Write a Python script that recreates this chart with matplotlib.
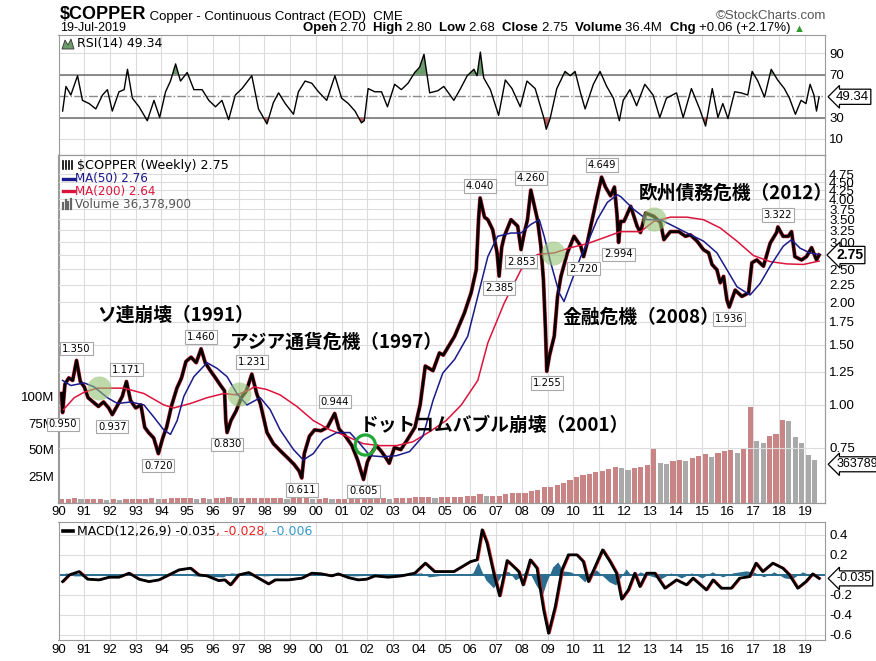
import numpy as np
import matplotlib.pyplot as plt
from matplotlib.ticker import FixedLocator, FuncFormatter, NullLocator
from matplotlib.patches import Polygon
from matplotlib.lines import Line2D

plt.rcParams['font.family'] = ['Liberation Sans', 'DejaVu Sans']

# ---------------- values (decimal years) ----------------
price_pts = [
    (1990.12, 1.08), (1990.16, 0.950), (1990.25, 1.15), (1990.40, 1.20), (1990.55, 1.18),
    (1990.70, 1.350), (1990.85, 1.17), (1991.00, 1.13), (1991.15, 1.05), (1991.35, 1.02),
    (1991.55, 0.99), (1991.75, 1.02), (1991.95, 0.98), (1992.09, 0.937), (1992.30, 1.00),
    (1992.48, 1.06), (1992.64, 1.171), (1992.80, 1.03), (1993.00, 0.98), (1993.20, 1.00),
    (1993.35, 0.86), (1993.50, 0.83), (1993.70, 0.80), (1993.88, 0.720), (1994.05, 0.80),
    (1994.20, 0.86), (1994.40, 1.00), (1994.60, 1.12), (1994.78, 1.20), (1994.95, 1.34),
    (1995.15, 1.38), (1995.35, 1.33), (1995.54, 1.460), (1995.70, 1.33), (1995.90, 1.26),
    (1996.10, 1.20), (1996.30, 1.14), (1996.45, 1.10), (1996.50, 0.90), (1996.55, 0.830),
    (1996.70, 0.90), (1996.90, 0.96), (1997.10, 1.05), (1997.30, 1.10), (1997.51, 1.231),
    (1997.70, 1.08), (1997.84, 1.01), (1998.10, 0.83), (1998.35, 0.77), (1998.65, 0.73),
    (1998.90, 0.70), (1999.15, 0.67), (1999.35, 0.64), (1999.45, 0.611), (1999.55, 0.72),
    (1999.75, 0.81), (1999.95, 0.845), (2000.20, 0.84), (2000.45, 0.86), (2000.73, 0.944),
    (2000.90, 0.85), (2001.15, 0.81), (2001.40, 0.76), (2001.62, 0.69), (2001.85, 0.605),
    (2002.00, 0.68), (2002.15, 0.72), (2002.35, 0.76), (2002.55, 0.73), (2002.72, 0.70),
    (2002.85, 0.675), (2003.05, 0.75), (2003.30, 0.74), (2003.55, 0.79), (2003.85, 0.86),
    (2004.05, 1.00), (2004.25, 1.30), (2004.40, 1.28), (2004.55, 1.26), (2004.80, 1.42),
    (2004.95, 1.40), (2005.39, 1.59), (2005.77, 1.86), (2006.03, 2.13), (2006.23, 2.49),
    (2006.32, 3.50), (2006.38, 4.040), (2006.55, 3.55), (2006.68, 3.49), (2006.87, 3.26),
    (2007.04, 2.79), (2007.12, 2.385), (2007.22, 2.90), (2007.32, 3.12), (2007.58, 3.49),
    (2007.84, 3.34), (2007.97, 2.853), (2008.10, 3.20), (2008.22, 3.49), (2008.35, 4.260),
    (2008.50, 3.80), (2008.61, 3.49), (2008.74, 2.92), (2008.84, 2.33), (2008.92, 1.66),
    (2008.97, 1.255), (2009.08, 1.40), (2009.26, 1.59), (2009.39, 2.08), (2009.52, 2.38),
    (2009.77, 2.79), (2010.03, 3.12), (2010.29, 2.92), (2010.40, 2.720), (2010.55, 3.00),
    (2010.68, 3.34), (2010.93, 4.08), (2011.10, 4.649), (2011.25, 4.35), (2011.45, 4.10),
    (2011.60, 4.35), (2011.70, 3.60), (2011.76, 2.994), (2011.84, 3.45), (2011.97, 3.45),
    (2012.23, 3.82), (2012.48, 3.34), (2012.61, 3.20), (2012.81, 3.65), (2013.13, 3.57),
    (2013.39, 3.42), (2013.52, 3.05), (2013.77, 3.22), (2014.10, 3.22), (2014.36, 3.12),
    (2014.55, 3.15), (2014.81, 3.02), (2015.06, 2.85), (2015.26, 2.79), (2015.39, 2.58),
    (2015.58, 2.49), (2015.71, 2.28), (2015.84, 2.38), (2015.97, 2.03), (2016.06, 1.936),
    (2016.29, 2.17), (2016.55, 2.08), (2016.81, 2.13), (2016.94, 2.61), (2017.13, 2.66),
    (2017.39, 2.55), (2017.65, 2.98), (2017.90, 3.20), (2017.95, 3.322), (2018.15, 3.12),
    (2018.35, 3.12), (2018.48, 3.22), (2018.61, 2.72), (2018.87, 2.66), (2019.06, 2.72),
    (2019.26, 2.89), (2019.45, 2.66), (2019.55, 2.75),
]
price_t, price = zip(*price_pts)

ma50_pts = [
    (1990.16, 1.18), (1990.48, 1.14), (1991.00, 1.16), (1991.38, 1.13), (1991.90, 1.05),
    (1992.29, 1.01), (1992.80, 1.02), (1993.32, 1.00), (1993.71, 0.92), (1994.09, 0.845),
    (1994.35, 0.82), (1994.61, 0.90), (1994.87, 1.06), (1995.26, 1.21), (1995.77, 1.33),
    (1996.16, 1.28), (1996.55, 1.21), (1996.93, 1.08), (1997.32, 1.00), (1997.84, 1.05),
    (1998.22, 0.97), (1998.61, 0.845), (1999.13, 0.74), (1999.51, 0.69), (1999.90, 0.72),
    (2000.29, 0.79), (2000.81, 0.83), (2001.32, 0.83), (2001.71, 0.77), (2002.10, 0.71),
    (2002.61, 0.705), (2003.13, 0.71), (2003.64, 0.73), (2004.16, 0.81), (2004.55, 1.03),
    (2004.93, 1.24), (2005.39, 1.36), (2005.90, 1.59), (2006.29, 2.08), (2006.68, 2.72),
    (2007.06, 3.12), (2007.58, 3.19), (2007.97, 3.19), (2008.35, 3.38), (2008.68, 3.49),
    (2008.87, 3.12), (2009.13, 2.60), (2009.45, 2.13), (2009.64, 2.01), (2009.90, 2.27),
    (2010.29, 2.72), (2010.55, 2.98), (2010.93, 3.49), (2011.32, 3.92), (2011.71, 4.13),
    (2011.84, 4.08), (2012.35, 3.74), (2012.87, 3.49), (2013.39, 3.49), (2013.90, 3.34),
    (2014.42, 3.19), (2015.06, 3.02), (2015.58, 2.79), (2015.97, 2.49), (2016.36, 2.22),
    (2016.87, 2.10), (2017.26, 2.27), (2017.65, 2.55), (2018.16, 2.92), (2018.48, 3.05),
    (2018.81, 2.88), (2019.19, 2.79), (2019.55, 2.76),
]
ma50_t, ma50 = zip(*ma50_pts)

ma200_pts = [
    (1990.20, 0.97), (1990.61, 1.05), (1991.00, 1.09), (1991.51, 1.12), (1992.55, 1.12),
    (1993.32, 1.08), (1994.09, 1.00), (1994.48, 0.98), (1995.13, 1.01), (1995.77, 1.05),
    (1996.42, 1.08), (1996.93, 1.07), (1997.45, 1.11), (1997.58, 1.13), (1998.09, 1.11),
    (1998.61, 1.07), (1999.26, 0.99), (1999.90, 0.90), (2000.55, 0.845), (2001.19, 0.81),
    (2001.84, 0.77), (2002.48, 0.76), (2003.13, 0.76), (2003.77, 0.78), (2004.42, 0.835),
    (2005.06, 0.90), (2005.65, 1.00), (2006.29, 1.18), (2006.68, 1.52), (2007.32, 1.99),
    (2007.97, 2.49), (2008.61, 2.76), (2009.26, 2.79), (2009.90, 2.89), (2010.55, 2.97),
    (2011.19, 3.09), (2011.84, 3.22), (2012.61, 3.22), (2013.13, 3.45), (2013.77, 3.55),
    (2014.42, 3.55), (2015.06, 3.49), (2015.71, 3.30), (2016.36, 3.02), (2017.00, 2.74),
    (2017.65, 2.63), (2018.29, 2.59), (2018.94, 2.58), (2019.55, 2.64),
]
ma200_t, ma200 = zip(*ma200_pts)

# labelled highs and lows
high_t = [1990.70, 1992.64, 1995.54, 1997.51, 2000.73, 2006.38, 2008.35, 2011.10, 2017.95]
high_v = [1.350, 1.171, 1.460, 1.231, 0.944, 4.040, 4.260, 4.649, 3.322]
low_t = [1990.16, 1992.09, 1993.88, 1996.55, 1999.45, 2001.85, 2007.12, 2007.97,
         2008.97, 2010.40, 2011.76, 2016.06]
low_v = [0.950, 0.937, 0.720, 0.830, 0.611, 0.605, 2.385, 2.853, 1.255, 2.720, 2.994, 1.936]

# weekly volume, read per quarter (millions), 1990Q1 .. 2019Q2
vol_m = [
    4, 4, 5, 4,  4, 4, 4, 3,  4, 3, 4, 4,  4, 4, 5, 4,  4, 5, 5, 5,
    5, 4, 5, 4,  5, 5, 6, 5,  5, 5, 5, 5,  5, 5, 5, 4,  5, 5, 5, 4,
    4, 5, 4, 4,  4, 4, 5, 5,  5, 5, 5, 4,  5, 5, 5, 6,  6, 6, 5, 6,
    6, 6, 6, 7,  7, 8, 7, 7,  7, 8, 9, 9,  9, 11, 12, 15,  15, 17, 19, 22,
    24, 26, 27, 29,  30, 32, 34, 33,  31, 33, 34, 36,  52, 38, 37, 39,
    40, 39, 42, 44,  46, 43, 47, 49,  50, 47, 52, 90,  58, 56, 63, 65,
    78, 77, 62, 56,  45, 40,
]
last_volume = 36378900

rsi_pts = [
    (1990.16, 36), (1990.29, 59), (1990.48, 51), (1990.74, 69), (1990.93, 46),
    (1991.19, 43), (1991.45, 38), (1991.71, 51), (1991.90, 56), (1992.09, 36),
    (1992.35, 54), (1992.55, 56), (1992.68, 75), (1992.87, 48), (1993.13, 40),
    (1993.45, 27), (1993.71, 46), (1993.93, 30), (1994.16, 54), (1994.35, 64),
    (1994.55, 80), (1994.74, 64), (1995.00, 72), (1995.26, 56), (1995.58, 56),
    (1995.84, 46), (1996.10, 40), (1996.35, 46), (1996.61, 28), (1996.87, 51),
    (1997.13, 57), (1997.51, 69), (1997.77, 38), (1998.10, 24), (1998.35, 44),
    (1998.55, 53), (1998.81, 43), (1999.13, 33), (1999.32, 54), (1999.58, 64),
    (1999.84, 62), (2000.10, 54), (2000.42, 46), (2000.74, 69), (2001.00, 48),
    (2001.26, 43), (2001.52, 36), (2001.77, 25), (2001.88, 27), (2002.03, 57),
    (2002.29, 54), (2002.55, 54), (2002.78, 40), (2003.06, 61), (2003.32, 56),
    (2003.58, 62), (2003.84, 72), (2004.03, 77), (2004.20, 89), (2004.42, 53),
    (2004.74, 55), (2004.97, 59), (2005.36, 46), (2005.62, 57), (2005.88, 69),
    (2006.14, 75), (2006.26, 69), (2006.39, 91), (2006.52, 67), (2006.78, 56),
    (2007.10, 32), (2007.36, 65), (2007.62, 57), (2007.94, 40), (2008.20, 64),
    (2008.52, 57), (2008.85, 30), (2008.95, 19), (2009.10, 29), (2009.36, 57),
    (2009.68, 73), (2009.88, 69), (2010.07, 73), (2010.27, 54), (2010.46, 38),
    (2010.78, 61), (2011.04, 73), (2011.30, 59), (2011.56, 48), (2011.79, 27),
    (2011.94, 46), (2012.20, 56), (2012.46, 41), (2012.78, 61), (2013.10, 51),
    (2013.36, 30), (2013.62, 48), (2014.01, 53), (2014.27, 30), (2014.59, 57),
    (2014.91, 38), (2015.14, 22), (2015.40, 57), (2015.62, 30), (2015.81, 43),
    (2016.01, 29), (2016.27, 54), (2016.52, 53), (2016.78, 51), (2016.95, 73),
    (2017.17, 64), (2017.43, 49), (2017.69, 75), (2017.94, 65), (2018.20, 57),
    (2018.40, 48), (2018.63, 33), (2018.85, 46), (2019.04, 43), (2019.20, 61),
    (2019.35, 51), (2019.45, 36), (2019.55, 49.34),
]
rsi_t, rsi = zip(*rsi_pts)

macd_pts = [
    (1990.16, -0.067), (1990.42, 0.0), (1990.80, 0.033), (1991.13, -0.043), (1991.58, -0.05),
    (1991.97, -0.023), (1992.35, -0.023), (1992.74, 0.017), (1993.13, -0.043), (1993.51, -0.067),
    (1993.90, -0.05), (1994.29, 0.0), (1994.68, 0.05), (1995.13, 0.067), (1995.45, 0.0),
    (1995.77, -0.01), (1996.22, -0.057), (1996.46, -0.05), (1996.68, -0.10), (1997.00, 0.0),
    (1997.39, 0.023), (1997.77, -0.033), (1998.16, -0.09), (1998.42, -0.05), (1998.93, -0.05),
    (1999.45, -0.033), (1999.84, 0.017), (2000.22, 0.01), (2000.61, -0.01), (2000.87, 0.01),
    (2001.26, -0.027), (2001.64, -0.05), (2001.97, -0.043), (2002.29, -0.01), (2002.81, -0.023),
    (2003.32, -0.01), (2003.84, 0.017), (2004.25, 0.117), (2004.61, 0.033), (2005.36, 0.033),
    (2006.01, 0.133), (2006.26, 0.15), (2006.46, 0.45), (2006.65, 0.317), (2006.91, 0.017),
    (2007.14, -0.21), (2007.43, 0.143), (2007.68, 0.083), (2007.88, 0.033), (2008.05, -0.10),
    (2008.33, 0.15), (2008.59, 0.067), (2008.85, -0.35), (2009.04, -0.583), (2009.30, -0.317),
    (2009.56, 0.05), (2009.81, 0.20), (2010.14, 0.20), (2010.39, 0.133), (2010.59, -0.067),
    (2010.85, 0.083), (2011.14, 0.25), (2011.43, 0.133), (2011.68, 0.017), (2011.88, -0.243),
    (2012.14, -0.15), (2012.39, 0.017), (2012.59, -0.117), (2012.85, 0.017), (2013.17, 0.017),
    (2013.56, -0.133), (2014.01, -0.05), (2014.40, -0.10), (2014.65, -0.033), (2015.17, -0.15),
    (2015.43, -0.05), (2015.75, -0.133), (2016.14, -0.133), (2016.46, -0.033), (2016.85, -0.017),
    (2017.10, 0.117), (2017.36, 0.033), (2017.75, 0.117), (2018.14, 0.067), (2018.40, 0.0),
    (2018.72, -0.133), (2019.04, -0.067), (2019.30, 0.01), (2019.55, -0.035),
]
macd_t, macd = zip(*macd_pts)

hist_pts = [
    (1990.10, 0.0), (1990.30, 0.02), (1990.60, -0.01), (1991.00, -0.01), (1991.50, 0.01),
    (1992.50, 0.0), (1993.50, -0.01), (1994.50, 0.01), (1995.30, -0.01), (1996.40, -0.02),
    (1996.70, 0.02), (1997.20, 0.01), (1998.00, -0.01), (1999.50, 0.01), (2000.50, 0.0),
    (2001.50, -0.01), (2002.50, 0.0), (2003.50, 0.01), (2004.10, 0.02), (2004.40, -0.02),
    (2005.00, 0.0), (2005.80, 0.0), (2006.10, 0.02), (2006.30, 0.13), (2006.42, 0.05),
    (2006.60, -0.05), (2006.90, -0.13), (2007.10, -0.05), (2007.30, 0.04), (2007.50, 0.03),
    (2007.75, -0.05), (2007.95, -0.02), (2008.15, 0.04), (2008.35, 0.0), (2008.55, -0.10),
    (2008.80, -0.20), (2008.95, -0.08), (2009.20, 0.08), (2009.40, 0.13), (2009.60, 0.04),
    (2009.90, 0.03), (2010.20, -0.01), (2010.45, -0.07), (2010.65, 0.02), (2010.90, 0.05),
    (2011.10, 0.0), (2011.40, -0.07), (2011.65, -0.10), (2011.85, -0.02), (2012.05, 0.06),
    (2012.30, -0.02), (2012.60, 0.03), (2013.00, -0.01), (2013.40, -0.04), (2013.80, 0.02),
    (2014.20, -0.03), (2014.60, 0.02), (2015.00, -0.03), (2015.40, 0.03), (2015.80, -0.02),
    (2016.20, 0.02), (2016.70, 0.04), (2017.00, 0.03), (2017.40, -0.02), (2017.80, 0.03),
    (2018.20, -0.03), (2018.50, -0.04), (2018.90, 0.03), (2019.30, -0.01), (2019.55, -0.006),
]
hist_t, hist = zip(*hist_pts)

# highlighted turning points (filled circles) and the dot-com ring
event_t = [1991.58, 1997.00, 2009.20, 2013.13]
event_p = [1.12, 1.08, 2.79, 3.50]
ring_t = [2001.92]
ring_p = [0.763]

events = ['ソ連崩壊（1991）', 'アジア通貨危機（1997）', 'ドットコムバブル崩壊（2001）',
          '金融危機（2008）', '欧州債務危機（2012）']

price_ticks = [0.75, 1.00, 1.25, 1.50, 1.75, 2.00, 2.25, 2.50, 2.75, 3.00,
               3.25, 3.50, 3.75, 4.00, 4.25, 4.50, 4.75]

# ---------------- layout ----------------
W, H = 876, 661


def fx(x):
    return x / W


def fy(y):
    return 1 - y / H


def rect(x0, y0, x1, y1):
    return [fx(x0), fy(y1), (x1 - x0) / W, (y1 - y0) / H]


fig = plt.figure(figsize=(W / 100, H / 100), dpi=100)
ax_rsi = fig.add_axes(rect(58.5, 35, 825, 155))
ax_vol = fig.add_axes(rect(58.5, 155, 825, 503), sharex=ax_rsi)
ax_px = ax_vol.twinx()
ax_macd = fig.add_axes(rect(58.5, 521.5, 825, 640), sharex=ax_rsi)

grid_c = '#dcdcdc'
years = np.arange(1990, 2020)
ax_rsi.set_xlim(1990.10, 2019.78)
ax_rsi.set_xticks(years)
ax_rsi.set_xticklabels([f"{y % 100:02d}" for y in years])
for ax in (ax_rsi, ax_vol, ax_px, ax_macd):
    for s in ax.spines.values():
        s.set_color('#9a9a9a')
    ax.tick_params(labelsize=9.5, length=0, pad=3, colors='#888888', labelcolor='black')
for ax in (ax_rsi, ax_vol, ax_macd):
    ax.grid(axis='x', color=grid_c, lw=0.8)
    ax.set_axisbelow(True)
ax_rsi.tick_params(labelbottom=False)
ax_vol.tick_params(axis='x', pad=2)
ax_macd.tick_params(axis='x', pad=3)

# ---------------- RSI ----------------
rsi_a = np.array(rsi)
ax_rsi.plot(rsi_t, rsi, color='black', lw=1.0, zorder=3)
ax_rsi.fill_between(rsi_t, rsi_a, 70, where=rsi_a > 70, interpolate=True,
                    color='#6b9c6b', lw=0, zorder=2)
ax_rsi.fill_between(rsi_t, rsi_a, 30, where=rsi_a < 30, interpolate=True,
                    color='#b86262', lw=0, zorder=2)
for lvl in (30, 70):
    ax_rsi.axhline(lvl, color='#6e6e6e', lw=1.1, zorder=1)
ax_rsi.axhline(50, color='#8a8a8a', lw=1.0, ls='-.', zorder=1)
ax_rsi.set_ylim(-5, 107)
ax_rsi.yaxis.tick_right()
ax_rsi.set_yticks([10, 30, 70, 90])
ax_rsi.grid(axis='y', color=grid_c, lw=0.8)

# ---------------- volume ----------------
vol_t = 1990.125 + 0.25 * np.arange(len(vol_m))
vol = np.array(vol_m) * 1e6
vol_col = ['#c98585' if i == 0 or vol_m[i] >= vol_m[i - 1] else '#a9a9a9'
           for i in range(len(vol_m))]
ax_vol.bar(vol_t, vol, width=0.2, color=vol_col, lw=0)
ax_vol.set_ylim(0, 327e6)
ax_vol.yaxis.tick_left()
ax_vol.set_yticks([25e6, 50e6, 75e6, 100e6])
ax_vol.set_yticklabels(['25M', '50M', '75M', '100M'])

# ---------------- price ----------------
ax_px.set_yscale('log')
ax_px.set_ylim(0.516, 5.40)
ax_px.yaxis.set_major_locator(FixedLocator(price_ticks))
# the 2.75 label sits under the closing-price tag
ax_px.yaxis.set_major_formatter(FuncFormatter(lambda v, p: '' if abs(v - 2.75) < 1e-6 else f"{v:.2f}"))
ax_px.yaxis.set_minor_locator(NullLocator())
ax_px.grid(axis='y', color=grid_c, lw=0.8, zorder=0)
ax_px.plot(price_t, price, color='#cc2233', lw=2.8, zorder=3)
ax_px.plot(price_t, price, color='black', lw=2.0, zorder=4)
ax_px.plot(ma200_t, ma200, color='#dc143c', lw=1.1, zorder=5)
ax_px.plot(ma50_t, ma50, color='#1a1a8c', lw=1.1, zorder=5)
ax_px.scatter(event_t, event_p, s=300, color='#94c274', alpha=0.6, lw=0, zorder=6)
ax_px.scatter(ring_t, ring_p, s=210, facecolor='none', edgecolor='#22a838', lw=2.3, zorder=6)

box = dict(boxstyle='square,pad=0.18', fc='white', ec='#a8a8a8', lw=0.8)
for t, v in zip(high_t, high_v):
    ax_px.annotate(f"{v:.3f}", xy=(t, v), xytext=(0, 5), textcoords='offset points',
                   ha='center', va='bottom', fontsize=7.2, family='DejaVu Sans',
                   bbox=box, zorder=7)
for t, v in zip(low_t, low_v):
    ax_px.annotate(f"{v:.3f}", xy=(t, v), xytext=(0, -5), textcoords='offset points',
                   ha='center', va='top', fontsize=7.2, family='DejaVu Sans',
                   bbox=box, zorder=7)

# event notes (position in year / price)
note_pos = [(1991.51, 1.835), (1996.66, 1.53), (2001.69, 0.874), (2009.58, 1.80), (2012.53, 4.18)]
for s, (t, p) in zip(events, note_pos):
    ax_px.text(t, p, s, fontsize=13.5, family=['Noto Sans CJK JP', 'DejaVu Sans'],
               weight='bold', ha='left', va='center', zorder=8)


# ---------------- MACD ----------------
ax_macd.fill_between(hist_t, hist, 0, color='#2a6d90', lw=0, zorder=2)
ax_macd.axhline(0, color='#2a6d90', lw=1.4, zorder=2)
ax_macd.plot(np.array(macd_t) + 0.05, macd, color='#ee2020', lw=1.3, zorder=3)
ax_macd.plot(macd_t, macd, color='black', lw=2.0, zorder=4)
ax_macd.set_ylim(-0.65, 0.533)
ax_macd.yaxis.tick_right()
ax_macd.set_yticks([-0.6, -0.4, -0.2, 0.2, 0.4])
ax_macd.yaxis.set_major_formatter(FuncFormatter(lambda v, p: f"{v:.1f}"))
ax_macd.grid(axis='y', color=grid_c, lw=0.8)


# ---------------- right-edge value tags ----------------
def edge_tag(ax, y, s, bold=False, size=9):
    ax.annotate(s, xy=(1, y), xycoords=('axes fraction', 'data'), xytext=(8, 0),
                textcoords='offset points', ha='left', va='center', fontsize=size,
                fontweight='bold' if bold else 'normal', annotation_clip=False,
                bbox=dict(boxstyle='larrow,pad=0.12', fc='white', ec='black', lw=0.9),
                zorder=10)


edge_tag(ax_rsi, rsi[-1], f"{rsi[-1]:.2f}", size=9.5)
edge_tag(ax_px, price[-1], f"{price[-1]:.2f}", bold=True, size=10)
edge_tag(ax_vol, last_volume, f"{last_volume}", size=9)
edge_tag(ax_macd, macd[-1], f"{macd[-1]:.3f}", size=9)


# ---------------- header and panel legends ----------------
def chain(ax, x, y, parts, size, family='Liberation Sans'):
    t = fig.text(fx(x), fy(y), parts[0][0], fontsize=parts[0][3], fontweight=parts[0][1],
                 color=parts[0][2], family=family, va='baseline')
    for s, wt, c, sz in parts[1:]:
        t = ax.annotate(s, xy=(1, 0), xycoords=t, va='bottom', ha='left',
                        fontsize=sz, fontweight=wt, color=c, family=family,
                        annotation_clip=False, zorder=20)
    return t


chain(ax_rsi, 60, 19, [('$COPPER', 'bold', 'black', 13),
                       (' Copper - Continuous Contract (EOD)  CME', 'normal', 'black', 9.5)], 9.5)
fig.text(fx(826), fy(19), '\u00a9StockCharts.com', fontsize=9.5, color='#555555',
         ha='right', va='baseline')
fig.text(fx(60), fy(31), '19-Jul-2019', fontsize=9, va='baseline')
hdr = [('Open ', 'bold'), ('2.70  ', 'normal'), ('High ', 'bold'), ('2.80  ', 'normal'),
       ('Low ', 'bold'), ('2.68  ', 'normal'), ('Close ', 'bold'), ('2.75  ', 'normal'),
       ('Volume ', 'bold'), ('36.4M  ', 'normal'), ('Chg ', 'bold'),
       ('+0.06 (+2.17%) ', 'normal')]
chain(ax_rsi, 303, 31, [(s, w, 'black', 9.5) for s, w in hdr] + [('\u25b2', 'normal', '#2e9a2e', 8)], 9.5)

fig.text(fx(77), fy(44), 'RSI(14) 49.34', fontsize=9, family='DejaVu Sans', va='center')
fig.add_artist(Polygon([(fx(62), fy(49)), (fx(65), fy(40)), (fx(68), fy(45)),
                        (fx(71), fy(39)), (fx(74), fy(49))], closed=True,
                       transform=fig.transFigure, fc='#6b9c6b', ec='#333333', lw=0.6))

fig.text(fx(77), fy(165), '$COPPER (Weekly) 2.75', fontsize=9.2, family='DejaVu Sans',
         va='center')
for xb in (63, 66, 69, 72):
    fig.add_artist(Line2D([fx(xb), fx(xb)], [fy(161), fy(169)], color='black', lw=1.2,
                          transform=fig.transFigure))
fig.text(fx(75), fy(178.5), 'MA(50) 2.76', fontsize=8.6, family='DejaVu Sans',
         color='#1a1a8c', va='center')
fig.add_artist(Line2D([fx(63), fx(74)], [fy(178.5), fy(178.5)], color='#1a1a8c', lw=2.4,
                      transform=fig.transFigure))
fig.text(fx(75), fy(191.5), 'MA(200) 2.64', fontsize=8.6, family='DejaVu Sans',
         color='#dc143c', va='center')
fig.add_artist(Line2D([fx(63), fx(74)], [fy(191.5), fy(191.5)], color='#dc143c', lw=2.4,
                      transform=fig.transFigure))
fig.text(fx(75), fy(205), 'Volume 36,378,900', fontsize=8.6, family='DejaVu Sans',
         color='#555555', va='center')
for xb, top in ((63, 203), (65.5, 200), (68, 202), (70.5, 199)):
    fig.add_artist(Line2D([fx(xb), fx(xb)], [fy(209), fy(top)], color='#666666', lw=1.6,
                          transform=fig.transFigure))

fig.add_artist(Line2D([fx(63), fx(73)], [fy(531), fy(531)], color='black', lw=2.6,
                      transform=fig.transFigure))
chain(ax_macd, 77, 535, [('MACD(12,26,9) -0.035', 'normal', 'black', 9),
                         (', -0.028', 'normal', '#ee2020', 9),
                         (', -0.006', 'normal', '#3399cc', 9)], 9, family='DejaVu Sans')

fig.savefig('out.png', dpi=100)
